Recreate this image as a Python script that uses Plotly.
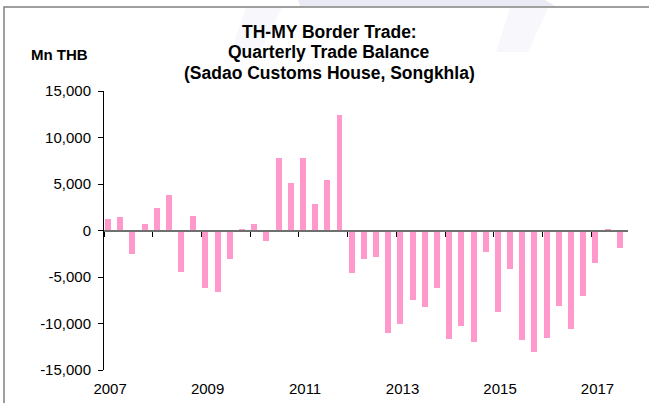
import plotly.graph_objects as go

# Quarterly trade balance, Sadao Customs House (Mn THB), 2007Q1 - 2017Q3
quarters = [f"{yr}Q{q}" for yr in range(2007, 2018) for q in range(1, 5)][:43]
balance = [
    1200, 1500, -2550, 650,        # 2007
    2470, 3840, -4480, 1540,       # 2008
    -6200, -6630, -3080, 200,      # 2009
    650, -1180, 7850, 5130,        # 2010
    7820, 2870, 5450, 12370,       # 2011
    -4620, -3090, -2900, -11000,   # 2012
    -10000, -7490, -8210, -6130,   # 2013
    -11650, -10290, -12010, -2330, # 2014
    -8710, -4120, -11720, -13080,  # 2015
    -11580, -8140, -10540, -7060,  # 2016
    -3480, 150, -1830,             # 2017
]
year_labels = ["2007", "2009", "2011", "2013", "2015", "2017"]
y_ticks = [-15000, -10000, -5000, 0, 5000, 10000, 15000]
y_ticktext = ["-15,000", "-10,000", "-5,000", "0", "5,000", "10,000", "15,000"]

idx = list(range(len(quarters)))
label_pos = [quarters.index(f"{y}Q1") for y in year_labels]
year_bounds = [i - 0.5 for i in range(0, len(quarters), 4)]

W, H = 649, 403
ML, MR, MT, MB = 104, 21, 91, 33
PW, PH = W - ML - MR, H - MT - MB


def px(x):
    return (x - ML) / PW


def py(y):
    return (H - MB - y) / PH


FONT = "Arial, Liberation Sans, sans-serif"

fig = go.Figure()
fig.add_trace(go.Bar(
    x=idx, y=balance, customdata=quarters,
    width=0.49, offset=-0.42,
    marker=dict(color="#FF99CC", line=dict(width=0)),
    hovertemplate="%{customdata}: %{y:,}<extra></extra>",
    showlegend=False,
))
# carrier trace for the zero-line axis
fig.add_trace(go.Scatter(
    x=idx, y=balance, xaxis="x2", mode="markers",
    marker=dict(opacity=0), hoverinfo="skip", showlegend=False,
))

xr = [-0.5, len(quarters) - 0.5]
fig.update_layout(
    width=W, height=H,
    margin=dict(l=ML, r=MR, t=MT, b=MB, pad=0, autoexpand=False),
    paper_bgcolor="white", plot_bgcolor="white",
    font=dict(family=FONT, size=15, color="black"),
    bargap=0,
    xaxis=dict(
        range=xr, tickmode="array", tickvals=label_pos, ticktext=year_labels,
        ticks="", showline=False, showgrid=False, zeroline=False,
        tickfont=dict(size=15), ticklabelstandoff=8, automargin=False,
        fixedrange=True,
    ),
    xaxis2=dict(
        range=xr, overlaying="x", anchor="free", position=0.5, side="bottom",
        tickmode="array", tickvals=year_bounds, showticklabels=False,
        ticks="outside", ticklen=5, tickwidth=1, tickcolor="black",
        showline=True, linecolor="#707070", linewidth=2, automargin=False,
        showgrid=False, zeroline=False, fixedrange=True,
    ),
    yaxis=dict(
        range=[-15000, 15000], tickmode="array", tickvals=y_ticks, ticktext=y_ticktext,
        ticks="outside", ticklen=5, tickcolor="black", tickwidth=1,
        showline=True, linecolor="black", linewidth=1, automargin=False,
        showgrid=False, zeroline=False, tickfont=dict(size=15),
        ticklabelstandoff=4, fixedrange=True,
    ),
)

# chart title, one line per annotation
title_lines = ["TH-MY Border Trade:", "Quarterly Trade Balance", "(Sadao Customs House, Songkhla)"]
for line, yc in zip(title_lines, [32, 52.5, 73]):
    fig.add_annotation(
        text=f"<b>{line}</b>", x=px(329), y=py(yc), xref="paper", yref="paper",
        xanchor="center", yanchor="middle", showarrow=False,
        font=dict(family=FONT, size=17.5, color="black"),
    )
fig.add_annotation(
    text="<b>Mn THB</b>", x=px(59), y=py(55), xref="paper", yref="paper",
    xanchor="center", yanchor="middle", showarrow=False,
    font=dict(family=FONT, size=15, color="black"),
)

# faint background ribbons and chart frame
ribbons = [
    ([(298, 0), (545, 0), (555, 6), (300, 6)], "#EAEAF5"),
    ([(246, 8), (282, 8), (262, 48), (232, 48)], "#F7F7FC"),
    ([(510, 8), (548, 8), (528, 52), (496, 52)], "#F7F7FC"),
]
for pts, col in ribbons:
    path = "M " + " L ".join(f"{px(x):.5f},{py(y):.5f}" for x, y in pts) + " Z"
    fig.add_shape(type="path", path=path, xref="paper", yref="paper",
                  fillcolor=col, line=dict(width=0), layer="below")
fig.add_shape(type="rect", xref="paper", yref="paper",
              x0=px(4), x1=px(W + 20), y0=py(H + 20), y1=py(7),
              line=dict(color="#808080", width=1.5), fillcolor="rgba(0,0,0,0)",
              layer="above")

fig.write_html("out.html")
